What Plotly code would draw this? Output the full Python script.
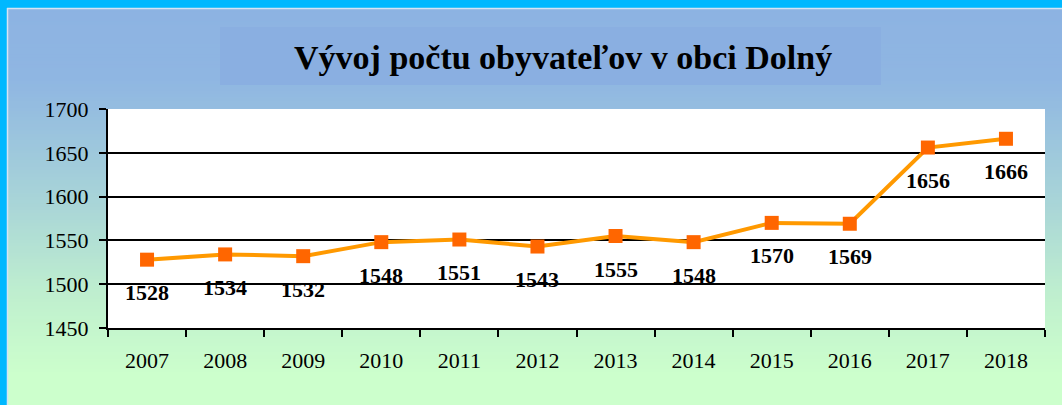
import plotly.graph_objects as go

years = ["2007", "2008", "2009", "2010", "2011", "2012", "2013", "2014", "2015", "2016", "2017", "2018"]
population = [1528, 1534, 1532, 1548, 1551, 1543, 1555, 1548, 1570, 1569, 1656, 1666]
y_ticks = [1450, 1500, 1550, 1600, 1650, 1700]
title_text = "Vývoj počtu obyvateľov v obci Dolný"

W, H = 1062, 405
L, R, T, B = 108, 1045, 109, 328  # plot area in pixels


def px_x(px):
    return (px - L) / (R - L)


def px_y(py):
    return (B - py) / (B - T)


def hex2rgb(h):
    h = h.lstrip("#")
    return [int(h[i:i + 2], 16) for i in (0, 2, 4)]


stops = [(8, "#8DB3E2"), (80, "#8FB6E2"), (200, "#A8D4D8"), (300, "#C0F0CE"), (375, "#CCFFCC"), (405, "#CCFFCC")]


def color_at(py):
    for (a, ca), (b, cb) in zip(stops[:-1], stops[1:]):
        if a <= py <= b:
            t = (py - a) / (b - a) if b > a else 0
            c1, c2 = hex2rgb(ca), hex2rgb(cb)
            c = [round(c1[i] + (c2[i] - c1[i]) * t) for i in range(3)]
            return "rgb(%d,%d,%d)" % tuple(c)
    return stops[-1][1]


shapes = []
n = 120
top, bot = 8, 405
for i in range(n):
    y0 = top + (bot - top) * i / n
    y1 = top + (bot - top) * (i + 1) / n + 0.8
    shapes.append(dict(type="rect", xref="paper", yref="paper", layer="below",
                       x0=px_x(7), x1=px_x(W + 2), y0=px_y(y1), y1=px_y(y0),
                       fillcolor=color_at((y0 + y1) / 2), line=dict(width=0)))
# thin light inner edge
shapes.append(dict(type="line", xref="paper", yref="paper", layer="below",
                   x0=px_x(7), x1=px_x(W + 2), y0=px_y(8.5), y1=px_y(8.5),
                   line=dict(color="#D6E4F4", width=1.5)))
shapes.append(dict(type="line", xref="paper", yref="paper", layer="below",
                   x0=px_x(7.5), x1=px_x(7.5), y0=px_y(8), y1=px_y(H + 2),
                   line=dict(color="#D6E4F4", width=1.5)))
# title box
shapes.append(dict(type="rect", xref="paper", yref="paper", layer="below",
                   x0=px_x(220), x1=px_x(881), y0=px_y(85), y1=px_y(27),
                   fillcolor="#8AAFE1", line=dict(width=0)))
# white plot area
shapes.append(dict(type="rect", xref="paper", yref="paper", layer="below",
                   x0=0, x1=1, y0=0, y1=1, fillcolor="white", line=dict(width=0)))

fig = go.Figure()
fig.add_trace(go.Scatter(
    x=years, y=population, mode="lines+markers",
    line=dict(color="#FF9900", width=4),
    marker=dict(symbol="square", size=14, color="#FF6600", line=dict(width=0)),
    showlegend=False, hoverinfo="skip",
))

annotations = [dict(x=i, y=v, xref="x", yref="y", text="<b>%d</b>" % v, showarrow=False,
                    yshift=-33, font=dict(family="Liberation Serif", size=22, color="black"))
               for i, v in enumerate(population)]
annotations.append(dict(x=px_x(563), y=px_y(57), xref="paper", yref="paper",
                        text="<b>%s</b>" % title_text, showarrow=False,
                        xanchor="center", yanchor="middle",
                        font=dict(family="Liberation Serif", size=34, color="black")))

fig.update_layout(
    width=W, height=H,
    margin=dict(l=L, r=W - R, t=T, b=H - B, pad=0),
    paper_bgcolor="#00B8FF",
    plot_bgcolor="white",
    shapes=shapes,
    annotations=annotations,
    hovermode=False,
    font=dict(family="Liberation Serif", color="black"),
    xaxis=dict(
        type="category", tickson="boundaries", ticks="outside", ticklen=7, tickwidth=2,
        tickcolor="black", showline=True, linecolor="black", linewidth=2,
        showgrid=False, tickfont=dict(size=22, family="Liberation Serif", color="black"),
        ticklabelstandoff=12, range=[-0.5, 11.5], fixedrange=True,
    ),
    yaxis=dict(
        range=[1450, 1700], tickvals=y_ticks, ticks="outside", ticklen=7, tickwidth=2,
        tickcolor="black", showline=True, linecolor="black", linewidth=2,
        showgrid=True, gridcolor="black", gridwidth=2, zeroline=False,
        tickfont=dict(size=22, family="Liberation Serif", color="black"),
        ticklabelstandoff=6, fixedrange=True,
    ),
)

fig.write_html("out.html", config={"displayModeBar": False, "staticPlot": True},
               post_script="document.body.style.margin='0px';")
